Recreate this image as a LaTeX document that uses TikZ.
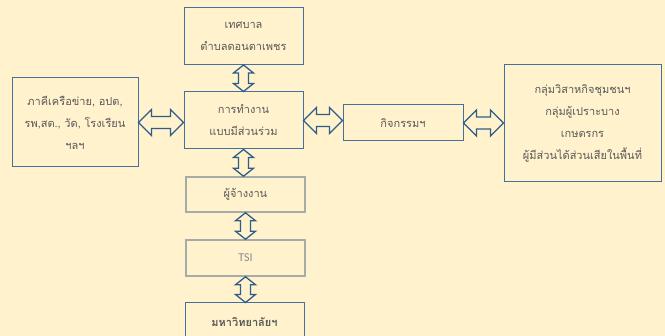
\documentclass[tikz,border=0pt]{standalone}
\usepackage{fontspec}
\newfontfamily\thaifont[Script=Thai]{Loma}
\newfontfamily\latfont{Carlito}
\usetikzlibrary{calc}
\definecolor{bgc}{HTML}{FFF2CC}
\definecolor{bdr}{HTML}{41719C}
\definecolor{abdr}{HTML}{2F5D8A}
\definecolor{gbdr}{HTML}{A5ABA8}
\definecolor{txt}{HTML}{595959}
\definecolor{ltxt}{HTML}{8C8C8C}
\tikzset{
  box/.style={draw=bdr, line width=1pt, fill=bgc, text=txt, align=center,
    inner sep=0pt, font=\thaifont\fontsize{11}{22}\selectfont},
  gbox/.style={box, draw=gbdr, line width=1.5pt},
  barrow/.style={draw=abdr, line width=1.3pt, fill=bgc, line join=miter},
}
\newcommand\harrow[2]{\draw[barrow] let \p1=(#1), \p2=(#2) in
  (\x1,\y1) -- (\x1+13pt,\y1+13pt) -- (\x1+13pt,\y1+6pt) -- (\x2-13pt,\y1+6pt)
  -- (\x2-13pt,\y1+13pt) -- (\x2,\y1) -- (\x2-13pt,\y1-13pt) -- (\x2-13pt,\y1-6pt)
  -- (\x1+13pt,\y1-6pt) -- (\x1+13pt,\y1-13pt) -- cycle;}
\newcommand\varrow[2]{\draw[barrow] let \p1=(#1), \p2=(#2) in
  (\x1,\y1) -- (\x1+10pt,\y1-8pt) -- (\x1+5pt,\y1-8pt) -- (\x1+5pt,\y2+8pt)
  -- (\x1+10pt,\y2+8pt) -- (\x1,\y2) -- (\x1-10pt,\y2+8pt) -- (\x1-5pt,\y2+8pt)
  -- (\x1-5pt,\y1-8pt) -- (\x1-10pt,\y1-8pt) -- cycle;}
\begin{document}
\begin{tikzpicture}[x=1pt,y=-1pt]
\fill[bgc] (0,0) rectangle (665,336);
\useasboundingbox (0,0) rectangle (665,336);
\clip (0,0) rectangle (665,336);
\node[box, minimum width=119pt, minimum height=57pt] (top) at (243.5,36) {เทศบาล\\ตำบลดอนตาเพชร};
\node[box, minimum width=126pt, minimum height=89pt] (left) at (75,122.5) {ภาคีเครือข่าย, อปต,\\รพ,สต., วัด, โรงเรียน\\ฯลฯ};
\node[box, minimum width=119pt, minimum height=57pt] (center) at (243.5,120.5) {การทำงาน\\แบบมีส่วนร่วม};
\node[box, minimum width=120pt, minimum height=36pt] (act) at (403,123) {กิจกรรมฯ};
\node[box, minimum width=157pt, minimum height=117pt] (right) at (582.5,123.5) {กลุ่มวิสาหกิจชุมชนฯ\\กลุ่มผู้เปราะบาง\\เกษตรกร\\ผู้มีส่วนได้ส่วนเสียในพื้นที่};
\node[gbox, minimum width=119pt, minimum height=35pt] (emp) at (245.5,194.5) {ผู้จ้างงาน};
\node[gbox, minimum width=119pt, minimum height=36pt, text=ltxt, font=\latfont\fontsize{12}{14}\selectfont] (tsi) at (245.5,258) {TSI};
\node[box, minimum width=119pt, minimum height=38pt, font=\thaifont\bfseries\fontsize{11}{22}\selectfont] (uni) at (244.5,322) {มหาวิทยาลัยฯ};
\varrow{top.south}{center.north}
\varrow{center.south}{emp.north}
\varrow{emp.south}{tsi.north}
\varrow{tsi.south}{uni.north}
\harrow{left.east}{center.west |- left.east}
\harrow{center.east}{act.west |- center.east}
\harrow{act.east}{right.west |- act.east}
\end{tikzpicture}
\end{document}
